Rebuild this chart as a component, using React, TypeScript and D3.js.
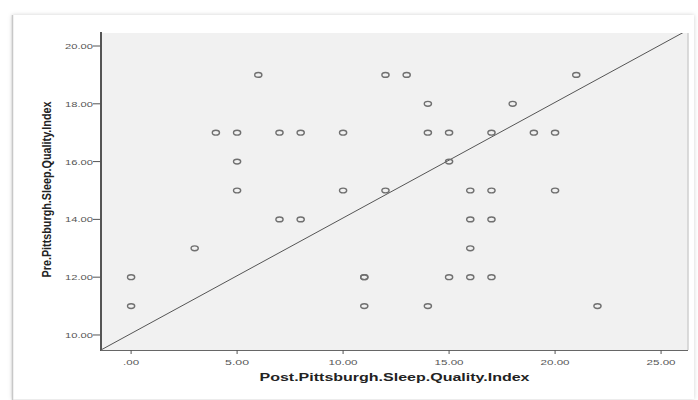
import React from "react";
import * as d3 from "d3";

const postPSQI = [6, 12, 13, 21, 14, 18, 4, 5, 7, 8, 10, 14, 15, 17, 19, 20, 5, 15, 5, 10, 12, 16, 17, 20, 7, 8, 16, 17, 3, 16, 0, 11, 11, 15, 16, 17, 0, 11, 14, 22];
const prePSQI = [19, 19, 19, 19, 18, 18, 17, 17, 17, 17, 17, 17, 17, 17, 17, 17, 16, 16, 15, 15, 15, 15, 15, 15, 14, 14, 14, 14, 13, 13, 12, 12, 12, 12, 12, 12, 11, 11, 11, 11];
const xTicks = [0, 5, 10, 15, 20, 25];
const yTicks = [10, 12, 14, 16, 18, 20];
const xDomain = [-1.42, 26.27];
const yDomain = [9.48, 20.45];
const refIntercept = 10.05;
const refSlope = 0.4;
const xTitle = "Post.Pittsburgh.Sleep.Quality.Index";
const yTitle = "Pre.Pittsburgh.Sleep.Quality.Index";

const W = 698;
const H = 400;
const L = 101, R = 688, T = 33, B = 350;

const fmt = (d: number) => (d === 0 ? ".00" : d3.format(".2f")(d));

export default function App() {
  const x = d3.scaleLinear().domain(xDomain).range([L, R]);
  const y = d3.scaleLinear().domain(yDomain).range([B, T]);
  const line = d3
    .line<number>()
    .x((d) => x(d))
    .y((d) => y(refIntercept + refSlope * d));
  const font = "'Liberation Sans', Arial, sans-serif";
  return (
    <svg
      width={W}
      height={H}
      style={{ position: "absolute", left: 0, top: 0, background: "#fff" }}
      fontFamily={font}
    >
      <defs>
        <filter id="sh" x="-5%" y="-5%" width="110%" height="110%">
          <feDropShadow dx="0" dy="0" stdDeviation="2" floodColor="#000" floodOpacity="0.18" />
        </filter>
        <clipPath id="plotClip">
          <rect x={L} y={T} width={R - L} height={B - T} />
        </clipPath>
      </defs>
      <rect x={12} y={15} width={682} height={384} fill="#fff" filter="url(#sh)" />
      <line x1={12.5} x2={12.5} y1={15} y2={400} stroke="#c8c8c8" strokeWidth={1.5} />
      <rect x={L} y={T} width={R - L} height={B - T} fill="#f1f1f1" />
      <line x1={R} x2={R} y1={T} y2={B} stroke="#cfcfcf" strokeWidth={1.5} />
      <path
        d={line([xDomain[0], xDomain[1]]) || ""}
        stroke="#555"
        strokeWidth={1}
        fill="none"
        clipPath="url(#plotClip)"
      />
      {postPSQI.map((px, i) => (
        <ellipse
          key={i}
          cx={x(px)}
          cy={y(prePSQI[i])}
          rx={3.6}
          ry={2.4}
          fill="none"
          stroke="#707070"
          strokeWidth={1.4}
        />
      ))}
      {/* y axis */}
      <line x1={L} x2={L} y1={T - 1} y2={B + 1} stroke="#555" strokeWidth={2} />
      {yTicks.map((t) => (
        <g key={t}>
          <line x1={L - 8} x2={L} y1={y(t)} y2={y(t)} stroke="#555" strokeWidth={1} />
          <text
            x={L - 8}
            y={y(t) + 3}
            fontSize={7.5}
            fill="#555"
            textAnchor="end"
            textLength={28}
            lengthAdjust="spacingAndGlyphs"
          >
            {fmt(t)}
          </text>
        </g>
      ))}
      {/* x axis */}
      <line x1={L} x2={R} y1={B + 0.5} y2={B + 0.5} stroke="#666" strokeWidth={1} />
      {xTicks.map((t) => (
        <g key={t}>
          <line x1={x(t)} x2={x(t)} y1={B} y2={B + 4} stroke="#555" strokeWidth={1} />
          <text
            x={x(t)}
            y={365}
            fontSize={8}
            fill="#555"
            textAnchor="middle"
            textLength={t === 0 ? 16 : t < 10 ? 24 : 29}
            lengthAdjust="spacingAndGlyphs"
          >
            {fmt(t)}
          </text>
        </g>
      ))}
      <text
        x={(L + R) / 2}
        y={381}
        fontSize={10.5}
        fontWeight="bold"
        fill="#222"
        textAnchor="middle"
        textLength={270}
        lengthAdjust="spacingAndGlyphs"
      >
        {xTitle}
      </text>
      <g transform={`translate(51,${(T + 300) / 2 + 23}) scale(1.3,1) rotate(-90)`}>
        <text
          x={0}
          y={0}
          fontSize={10}
          fontWeight="bold"
          fill="#222"
          textAnchor="middle"
          textLength={176}
          lengthAdjust="spacingAndGlyphs"
        >
          {yTitle}
        </text>
      </g>
    </svg>
  );
}
